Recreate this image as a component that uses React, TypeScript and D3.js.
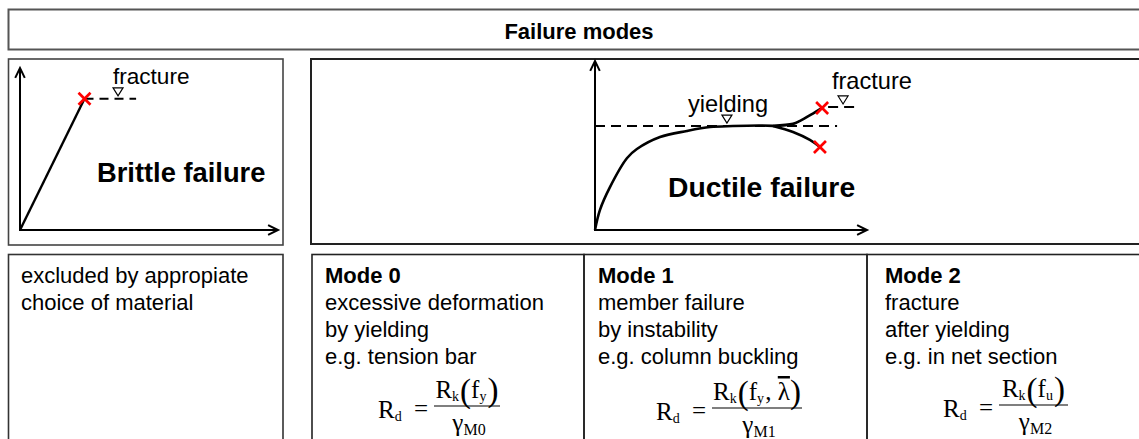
import React from "react";
import * as d3 from "d3";

const W = 1139;
const H = 439;
const SANS = "'Liberation Sans', Arial, Helvetica, sans-serif";
const SERIF = "'Liberation Serif', 'Times New Roman', serif";

// ---- texts ----
const title = "Failure modes";
const panelTitles = ["Brittle failure", "Ductile failure"];
const excludedLines = ["excluded by appropiate", "choice of material"];
const modeNames = ["Mode 0", "Mode 1", "Mode 2"];
const modeLines = [
  ["excessive deformation", "by yielding", "e.g. tension bar"],
  ["member failure", "by instability", "e.g. column buckling"],
  ["fracture", "after yielding", "e.g. in net section"],
];
// numerator arguments of R_k( ... ) and partial factor subscripts
const modeArgs = [
  [{ t: "f", sub: "y" }],
  [{ t: "f", sub: "y" }, { t: ", " }, { t: "\u03BB", bar: true }],
  [{ t: "f", sub: "u" }],
];
const gammaSubs = ["M0", "M1", "M2"];

// ---- brittle diagram (strain, stress) in 0..100 units ----
const brittleCurve: [number, number][] = [
  [0, 0],
  [25, 81],
];
const brittleFractureLevel = 81;
const brittleFractureDash = [25, 45];
const brittleFractureMark = 38;
const brittleLabel = { x: 36, y: 90 };

// ---- ductile diagram ----
const ductileMain: [number, number][] = [
  [0, 0],
  [1.8, 11.8],
  [5.5, 25.4],
  [11.8, 42.6],
  [15.4, 47.9],
  [23.9, 55.0],
  [33.8, 58.6],
  [42.3, 60.9],
  [50.7, 61.5],
  [60.7, 61.8],
  [65.4, 61.6],
];
const ductileHardening: [number, number][] = [
  [65.4, 61.6],
  [72.8, 62.8],
  [75.4, 64.6],
  [80.1, 68.9],
  [83.5, 72.2],
];
const ductileInstability: [number, number][] = [
  [65.4, 61.6],
  [72.8, 58.0],
  [79.0, 53.3],
  [82.7, 49.1],
];
const yieldLevel = 61.5;
const yieldLineEnd = 89;
const yieldMark = 48.5;
const fractureLevel = 72.8;
const fractureDash = [85.7, 95.6];
const fractureMark = 91.2;
const yieldLabel = { x: 34.2, y: 69.8 };
const fractureLabel = { x: 87.1, y: 83.4 };

// layout of formulas: left of R_d, fraction bar y, bar width
const formulaLayout = [
  { x: 378, y: 406, w: 66 },
  { x: 656, y: 408, w: 90 },
  { x: 943, y: 405, w: 69 },
];
const modeColX = [325, 598, 885];
const modeBoxes = [312, 584, 867, 1150];

function Arrow({ x1, y1, x2, y2 }: { x1: number; y1: number; x2: number; y2: number }) {
  const a = Math.atan2(y2 - y1, x2 - x1);
  const len = 11;
  const spread = 0.45;
  const p1 = [x2 - len * Math.cos(a - spread), y2 - len * Math.sin(a - spread)];
  const p2 = [x2 - len * Math.cos(a + spread), y2 - len * Math.sin(a + spread)];
  return (
    <g stroke="#000" strokeWidth={2} fill="none">
      <line x1={x1} y1={y1} x2={x2} y2={y2} />
      <path d={`M${p1[0]},${p1[1]}L${x2},${y2}L${p2[0]},${p2[1]}`} />
    </g>
  );
}

function Cross({ x, y }: { x: number; y: number }) {
  const s = 6;
  return (
    <g stroke="#ff0000" strokeWidth={2.6}>
      <line x1={x - s} y1={y - s} x2={x + s} y2={y + s} />
      <line x1={x - s} y1={y + s} x2={x + s} y2={y - s} />
    </g>
  );
}

function Mark({ x, y }: { x: number; y: number }) {
  return (
    <path
      d={`M${x - 5},${y - 11}L${x + 5},${y - 11}L${x},${y - 3}Z`}
      fill="#fff"
      stroke="#000"
      strokeWidth={1.2}
    />
  );
}

function Formula({ i }: { i: number }) {
  const { x, y, w } = formulaLayout[i];
  const bx = x + 56;
  const cx = bx + w / 2;
  return (
    <g fontFamily={SERIF} fill="#000">
      <text x={x} y={y + 12} fontSize={25}>
        R<tspan fontSize={14} dy={3}>d</tspan>
      </text>
      <text x={x + 36} y={y + 11} fontSize={25}>=</text>
      <line x1={bx} x2={bx + w} y1={y} y2={y} stroke="#000" strokeWidth={1.2} />
      <text x={cx} y={y - 8} fontSize={25} textAnchor="middle">
        R<tspan fontSize={14} dy={3}>k</tspan>
        <tspan fontSize={33} dy={1} dx={1}>(</tspan>
        {modeArgs[i].map((a, j) => (
          <React.Fragment key={j}>
            <tspan
              fontSize={25}
              dy={j === 0 ? -4 : 0}
              style={a.bar ? { textDecoration: "overline" } : undefined}
            >
              {a.t}
            </tspan>
            {a.sub ? (
              <>
                <tspan fontSize={14} dy={3}>{a.sub}</tspan>
                <tspan fontSize={14} dy={-3}>{"\u200A"}</tspan>
              </>
            ) : null}
          </React.Fragment>
        ))}
        <tspan fontSize={33} dy={3}>)</tspan>
      </text>
      <text x={cx + 2} y={y + 25} fontSize={25} textAnchor="middle">
        {"\u03B3"}
        <tspan fontSize={16} dy={4}>{gammaSubs[i]}</tspan>
      </text>
    </g>
  );
}

export default function App() {
  // brittle panel scales
  const bx = d3.scaleLinear().domain([0, 100]).range([20, 278]);
  const by = d3.scaleLinear().domain([0, 100]).range([230, 68]);
  // ductile panel scales
  const dx = d3.scaleLinear().domain([0, 100]).range([595, 867]);
  const dy = d3.scaleLinear().domain([0, 100]).range([230, 61]);

  const bLine = d3
    .line<[number, number]>()
    .x((d) => bx(d[0]))
    .y((d) => by(d[1]));
  const dLine = d3
    .line<[number, number]>()
    .x((d) => dx(d[0]))
    .y((d) => dy(d[1]))
    .curve(d3.curveCatmullRom.alpha(0.5));

  const bEnd = brittleCurve[brittleCurve.length - 1];
  const hEnd = ductileHardening[ductileHardening.length - 1];
  const iEnd = ductileInstability[ductileInstability.length - 1];

  return (
    <div style={{ position: "absolute", left: 0, top: 0 }}>
      <svg width={W} height={H} style={{ display: "block", background: "#fff" }}>
        {/* header */}
        <rect x={8.5} y={9.5} width={1145} height={40} fill="none" stroke="#555" strokeWidth={2} />
        <text x={579} y={39} textAnchor="middle" fontFamily={SANS} fontWeight="bold" fontSize={22}>
          {title}
        </text>

        {/* brittle panel */}
        <rect x={8.5} y={59} width={274.5} height={186} fill="none" stroke="#444" strokeWidth={1.6} />
        <Arrow x1={bx(0)} y1={by(0) + 1} x2={bx(0)} y2={by(100)} />
        <Arrow x1={bx(0) - 1} y1={by(0)} x2={bx(100)} y2={by(0)} />
        <path d={bLine(brittleCurve) || ""} fill="none" stroke="#000" strokeWidth={2.4} />
        <line
          x1={bx(brittleFractureDash[0])}
          x2={bx(brittleFractureDash[1])}
          y1={by(brittleFractureLevel)}
          y2={by(brittleFractureLevel)}
          stroke="#000"
          strokeWidth={2}
          strokeDasharray="9,6"
        />
        <Mark x={bx(brittleFractureMark)} y={by(brittleFractureLevel)} />
        <Cross x={bx(bEnd[0])} y={by(bEnd[1])} />
        <text x={bx(brittleLabel.x)} y={by(brittleLabel.y)} fontFamily={SANS} fontSize={22.6}>
          fracture
        </text>
        <text x={97} y={182} fontFamily={SANS} fontWeight="bold" fontSize={27.3}>
          {panelTitles[0]}
        </text>

        {/* ductile panel */}
        <rect x={311} y={59} width={845} height={185} fill="none" stroke="#222" strokeWidth={2} />
        <Arrow x1={dx(0)} y1={dy(0) + 1} x2={dx(0)} y2={dy(100)} />
        <Arrow x1={dx(0) - 1} y1={dy(0)} x2={dx(100)} y2={dy(0)} />
        <line
          x1={dx(0)}
          x2={dx(yieldLineEnd)}
          y1={dy(yieldLevel)}
          y2={dy(yieldLevel)}
          stroke="#000"
          strokeWidth={2}
          strokeDasharray="10,6"
        />
        <path d={dLine(ductileMain) || ""} fill="none" stroke="#000" strokeWidth={2.6} />
        <path d={dLine(ductileHardening) || ""} fill="none" stroke="#000" strokeWidth={2.6} />
        <path d={dLine(ductileInstability) || ""} fill="none" stroke="#000" strokeWidth={2.6} />
        <line
          x1={dx(fractureDash[0])}
          x2={dx(fractureDash[1])}
          y1={dy(fractureLevel)}
          y2={dy(fractureLevel)}
          stroke="#000"
          strokeWidth={2}
          strokeDasharray="10,6"
        />
        <Mark x={dx(yieldMark)} y={dy(yieldLevel)} />
        <Mark x={dx(fractureMark)} y={dy(fractureLevel)} />
        <Cross x={dx(hEnd[0])} y={dy(hEnd[1])} />
        <Cross x={dx(iEnd[0])} y={dy(iEnd[1])} />
        <text x={dx(yieldLabel.x)} y={dy(yieldLabel.y)} fontFamily={SANS} fontSize={23.6}>
          yielding
        </text>
        <text x={dx(fractureLabel.x)} y={dy(fractureLabel.y)} fontFamily={SANS} fontSize={23.6}>
          fracture
        </text>
        <text x={668} y={197} fontFamily={SANS} fontWeight="bold" fontSize={28.3}>
          {panelTitles[1]}
        </text>

        {/* lower row */}
        <rect x={8.5} y={254.5} width={274.5} height={200} fill="none" stroke="#333" strokeWidth={1.6} />
        {excludedLines.map((t, i) => (
          <text key={t} x={21} y={283 + i * 27} fontFamily={SANS} fontSize={22}>
            {t}
          </text>
        ))}
        {modeNames.map((m, i) => (
          <g key={m}>
            <rect
              x={modeBoxes[i]}
              y={254.5}
              width={modeBoxes[i + 1] - modeBoxes[i]}
              height={200}
              fill="none"
              stroke="#222"
              strokeWidth={1.6}
            />
            <text x={modeColX[i]} y={283} fontFamily={SANS} fontWeight="bold" fontSize={22}>
              {m}
            </text>
            {modeLines[i].map((t, j) => (
              <text key={t} x={modeColX[i]} y={310 + j * 27} fontFamily={SANS} fontSize={22}>
                {t}
              </text>
            ))}
            <Formula i={i} />
          </g>
        ))}
      </svg>
    </div>
  );
}
